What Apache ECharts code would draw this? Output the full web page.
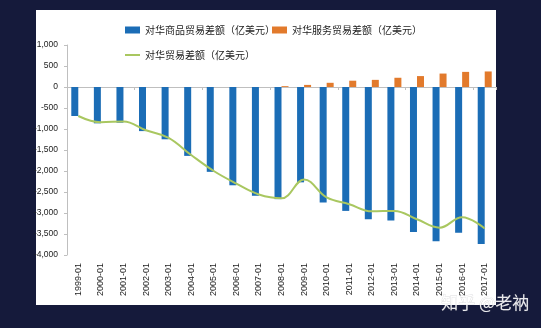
<!DOCTYPE html>
<html>
<head>
<meta charset="utf-8">
<script src="https://cdn.jsdelivr.net/npm/echarts@6/dist/echarts.min.js"></script>
<style>
  html, body { margin: 0; padding: 0; background: #151a3b; }
  #chart { width: 541px; height: 328px; }
</style>
</head>
<body>
<div id="chart"></div>
<script>
// Years shown on the category axis
const categories = ['1999-01','2000-01','2001-01','2002-01','2003-01','2004-01','2005-01','2006-01','2007-01','2008-01','2009-01','2010-01','2011-01','2012-01','2013-01','2014-01','2015-01','2016-01','2017-01'];

// Goods trade balance with China (100 million USD)
const goodsBalance = [-690, -865, -850, -1050, -1245, -1640, -2020, -2340, -2590, -2670, -2270, -2750, -2950, -3150, -3180, -3450, -3670, -3470, -3740];

// Services trade balance with China (100 million USD)
const servicesBalance = [null, null, null, null, null, null, null, null, null, 20, 50, 100, 150, 170, 220, 260, 320, 360, 370];

// Total trade balance with China (100 million USD)
const totalBalance = [-690, -840, -820, -1030, -1210, -1620, -2000, -2300, -2560, -2650, -2200, -2630, -2790, -2960, -2950, -3150, -3350, -3100, -3370];

// Value-axis range and step
const yTicks = { min: -4000, max: 1000, interval: 500 };

const names = ['对华商品贸易差额（亿美元）', '对华服务贸易差额（亿美元）', '对华贸易差额（亿美元）'];

const cnFont = '"Noto Sans CJK SC", sans-serif';
const numFont = '"Liberation Sans", Arial, sans-serif';

const chart = echarts.init(document.getElementById('chart'), null, { renderer: 'canvas' });

const legendText = { fontFamily: cnFont, fontSize: 10, color: '#222' };

chart.setOption({
  backgroundColor: '#151a3b',
  animation: false,
  graphic: [
    { type: 'rect', z: -10, shape: { x: 36, y: 10, width: 460, height: 295 }, style: { fill: '#ffffff' } },
    { type: 'text', z: 100, left: 441, top: 294,
      style: { text: '知乎 @老衲', fill: 'rgba(255,255,255,0.9)', stroke: 'rgba(120,120,130,0.35)', lineWidth: 0.6,
               font: '17px "Noto Sans CJK SC", sans-serif' } }
  ],
  legend: [
    { data: [names[0]], left: 125, top: 25, itemWidth: 15, itemHeight: 7, itemGap: 3, icon: 'rect', textStyle: legendText, padding: 0 },
    { data: [names[1]], left: 272, top: 25, itemWidth: 15, itemHeight: 7, itemGap: 3, icon: 'rect', textStyle: legendText, padding: 0 },
    { data: [names[2]], left: 125, top: 50, itemWidth: 15, itemHeight: 2, itemGap: 3, icon: 'rect', textStyle: legendText, padding: 0 }
  ],
  grid: { left: 67, right: 45, top: 45, bottom: 73, containLabel: false },
  xAxis: [
    {
      type: 'category',
      data: categories,
      axisLine: { onZero: true, lineStyle: { color: '#bfbfbf', width: 1 } },
      axisTick: { show: true, length: 3, lineStyle: { color: '#bfbfbf' } },
      axisLabel: { show: false }
    },
    {
      type: 'category',
      data: categories,
      position: 'bottom',
      axisLine: { show: false, onZero: false },
      axisTick: { show: false },
      axisLabel: {
        rotate: 90, margin: 8, interval: 0,
        fontFamily: numFont, fontSize: 9, color: '#222'
      }
    }
  ],
  yAxis: {
    type: 'value',
    min: yTicks.min, max: yTicks.max, interval: yTicks.interval,
    axisLine: { show: true, lineStyle: { color: '#bfbfbf' } },
    axisTick: { show: true, length: 3, lineStyle: { color: '#bfbfbf' } },
    splitLine: { show: false },
    axisLabel: {
      margin: 9, fontFamily: numFont, fontSize: 8.5, color: '#222',
      formatter: v => v.toLocaleString('en-US')
    }
  },
  series: [
    {
      name: names[0], type: 'bar', data: goodsBalance,
      barWidth: 7, barGap: '0%',
      itemStyle: { color: '#1b6db6' }
    },
    {
      name: names[1], type: 'bar', data: servicesBalance,
      barWidth: 7, barGap: '0%',
      itemStyle: { color: '#e27a2c' }
    },
    {
      name: names[2], type: 'line', data: totalBalance,
      smooth: 0.4, showSymbol: false, symbol: 'none',
      lineStyle: { color: '#a9c760', width: 2 },
      itemStyle: { color: '#a9c760' }
    }
  ]
});
</script>
</body>
</html>
